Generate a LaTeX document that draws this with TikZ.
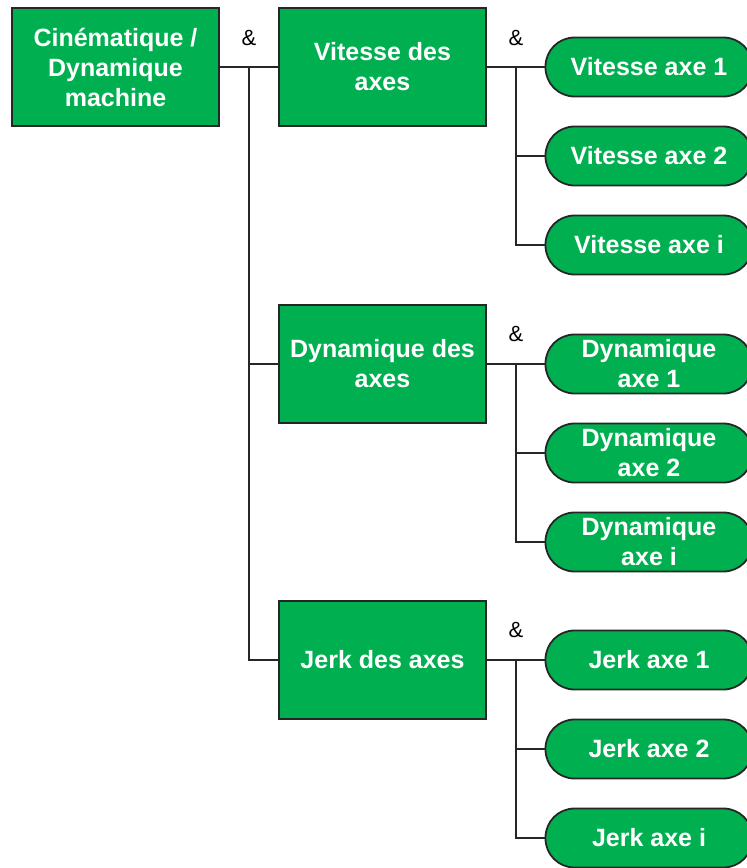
\documentclass[tikz,border=0pt]{standalone}
\usepackage{fontspec}
\setmainfont{Liberation Sans}
\begin{document}
\begin{tikzpicture}[x=1pt,y=-1pt,
  box/.style={draw=black!85, line width=1.8pt, fill=boxgreen, minimum width=207pt, minimum height=118pt,
    align=center, text=white, font=\bfseries\fontsize{25}{30}\selectfont, inner sep=0pt},
  pill/.style={draw=black!85, line width=1.8pt, fill=boxgreen, minimum width=207pt, minimum height=59pt,
    rounded corners=29pt, align=center, text=white, font=\bfseries\fontsize{25}{30}\selectfont, inner sep=0pt},
  conn/.style={line width=1.8pt, draw=black!85},
  amp/.style={font=\fontsize{22}{26}\selectfont, inner sep=0pt}]
\definecolor{boxgreen}{HTML}{00B050}
\useasboundingbox (0,0) rectangle (747,868);
\begin{scope}
\clip (0,0) rectangle (747,868);
% level 1
\node[box] (root) at (115.5,67) {Cinématique /\\Dynamique\\machine};
% level 2
\node[box] (vit) at (382.5,67) {Vitesse des\\axes};
\node[box] (dyn) at (382.5,364) {Dynamique des\\axes};
\node[box] (jrk) at (382.5,660) {Jerk des axes};
% level 3
\node[pill] (v1) at (649,67) {Vitesse axe 1};
\node[pill] (v2) at (649,156) {Vitesse axe 2};
\node[pill] (vi) at (649,245) {Vitesse axe i};
\node[pill] (d1) at (649,364) {Dynamique\\axe 1};
\node[pill] (d2) at (649,453) {Dynamique\\axe 2};
\node[pill] (di) at (649,542) {Dynamique\\axe i};
\node[pill] (j1) at (649,660) {Jerk axe 1};
\node[pill] (j2) at (649,749) {Jerk axe 2};
\node[pill] (ji) at (649,838) {Jerk axe i};
% ampersands
\node[amp] (a0) at (249,38) {\&};
\node[amp] (a1) at (516,38) {\&};
\node[amp] (a2) at (516,334) {\&};
\node[amp] (a3) at (516,630) {\&};
% junction coordinates
\coordinate (t0) at (249,67);
\coordinate (t1) at (516,67);
\coordinate (t2) at (516,364);
\coordinate (t3) at (516,660);
% connectors
\draw[conn] (root.east) -- (vit.west);
\draw[conn] (t0) |- (dyn.west);
\draw[conn] (t0) |- (jrk.west);
\draw[conn] (vit.east) -- (v1.west);
\draw[conn] (t1) |- (v2.west);
\draw[conn] (t1) |- (vi.west);
\draw[conn] (dyn.east) -- (d1.west);
\draw[conn] (t2) |- (d2.west);
\draw[conn] (t2) |- (di.west);
\draw[conn] (jrk.east) -- (j1.west);
\draw[conn] (t3) |- (j2.west);
\draw[conn] (t3) |- (ji.west);
\end{scope}
\end{tikzpicture}
\end{document}
